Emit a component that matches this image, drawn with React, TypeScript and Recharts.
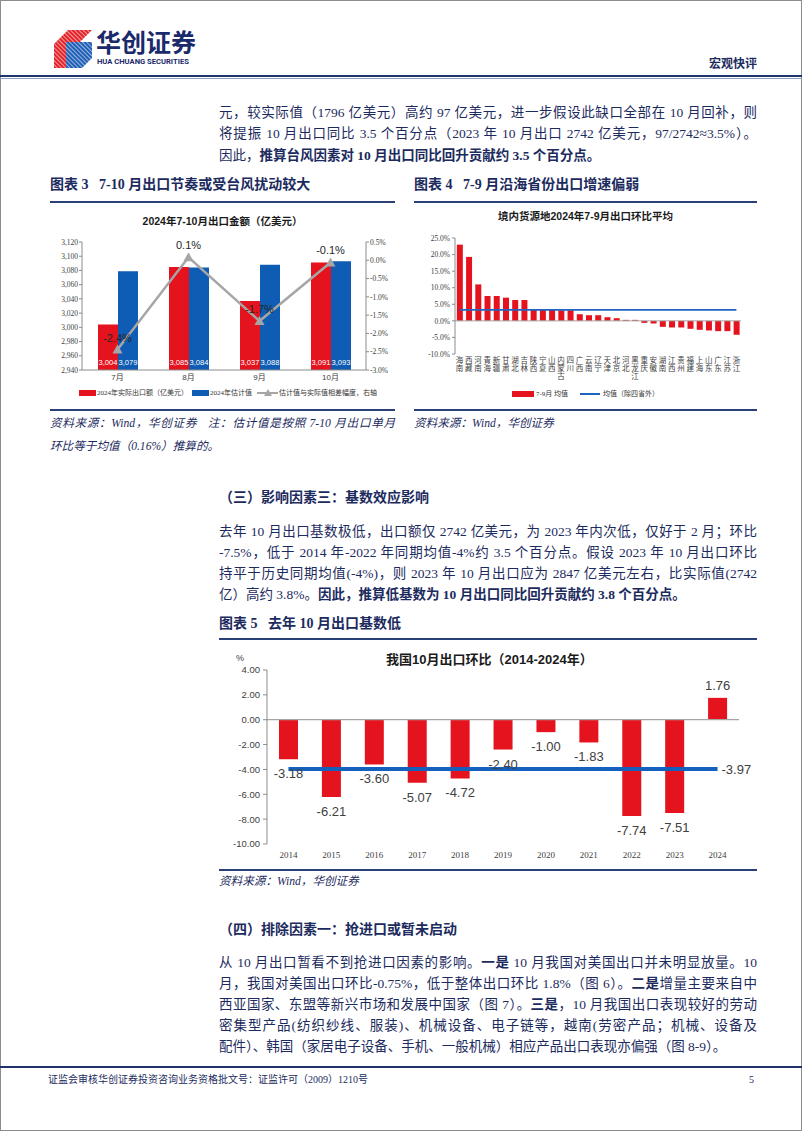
import React from 'react';
import { ComposedChart, BarChart, Bar, Line, XAxis, YAxis, ReferenceLine, LabelList } from 'recharts';

const NAVY = '#1c2b5e';
const RED = '#e5131d';
const BLUE = '#0e5cb3';
const GREY = '#a6a6a6';
const AXIS = '#8c8c8c';
const SERIF = '"Liberation Serif", "Noto Sans CJK SC", serif';
const SANS = '"Liberation Sans", "Noto Sans CJK SC", sans-serif';

// 图表3：2024年7-10月出口金额
const months = ['7月', '8月', '9月', '10月'];
const actualExport = [3004, 3085, 3037, 3091];
const estimatedExport = [3079, 3084, 3088, 3093];
const estimateGap = [-2.44, 0.08, -1.66, -0.06];
const exportTicks = [2940, 2960, 2980, 3000, 3020, 3040, 3060, 3080, 3100, 3120];
const gapTicks = [-3, -2.5, -2, -1.5, -1, -0.5, 0, 0.5];

// 图表4：境内货源地2024年7-9月出口环比平均
const provinces = [
  '海南', '西藏', '河南', '青海', '新疆', '甘肃', '湖北', '吉林', '陕西', '宁夏', '山西',
  '内蒙古', '四川', '广西', '云南', '辽宁', '天津', '北京', '河北', '黑龙江', '重庆',
  '安徽', '湖南', '江西', '贵州', '福建', '上海', '山东', '广东', '江苏', '浙江',
];
const provinceMoM = [
  23.0, 19.3, 11.0, 7.5, 7.5, 7.0, 6.3, 6.3, 3.4, 3.3, 3.3,
  3.2, 3.2, 2.0, 1.7, 1.7, 1.1, 0.8, 0.3, 0.3, -0.6,
  -0.8, -1.8, -2.0, -2.0, -2.4, -2.7, -2.9, -3.1, -3.1, -4.2,
];
const provinceAvgExFour = 3.3;
const provinceTicks = [-10, -5, 0, 5, 10, 15, 20, 25];

// 图表5：我国10月出口环比
const years = ['2014', '2015', '2016', '2017', '2018', '2019', '2020', '2021', '2022', '2023', '2024'];
const octMoM = [-3.18, -6.21, -3.6, -5.07, -4.72, -2.4, -1.0, -1.83, -7.74, -7.51, 1.76];
const octMoMAvg = -3.97;
const octTicks = [-10, -8, -6, -4, -2, 0, 2, 4];

const exportData = months.map((m, i) => ({
  month: m,
  actual: actualExport[i],
  estimate: estimatedExport[i],
  gap: estimateGap[i],
}));
const provinceData = provinces.map((p, i) => ({ name: p, value: provinceMoM[i] }));
const octData = years.map((y, i) => ({ year: y, value: octMoM[i] }));

const TriangleDot = (props: any) => {
  const { cx, cy } = props;
  if (cx == null || cy == null) return null;
  return <path d={`M${cx},${cy - 5}L${cx + 5},${cy + 4}L${cx - 5},${cy + 4}Z`} fill={GREY} />;
};

const VerticalTick = ({ x, y, payload }: any) => {
  const chars = Array.from(String(payload.value));
  return (
    <g>
      {chars.map((c, i) => (
        <text key={i} x={x} y={y + 6.5 + i * 8.3} textAnchor="middle" fontSize={7.5} fill="#404040" fontFamily={SANS}>
          {c}
        </text>
      ))}
    </g>
  );
};

const OctLabel = (props: any) => {
  const { x, y, width, height, value } = props;
  const top = Math.min(y, y + height);
  const bottom = Math.max(y, y + height);
  const ty = value < 0 ? bottom + 19 : top - 8;
  return (
    <text x={x + width / 2} y={ty} textAnchor="middle" fontSize={13} fill="#404040" fontFamily={SANS}>
      {Number(value).toFixed(2)}
    </text>
  );
};

// 绝对定位的一行文字，y 为行中心
function T({ x, y, w, size = 13.5, bold, italic, justify, color = NAVY, family = SERIF, children }: any) {
  return (
    <div
      style={{
        position: 'absolute',
        left: x,
        top: y - size,
        width: w,
        height: size * 2,
        lineHeight: `${size * 2}px`,
        fontSize: size,
        fontFamily: family,
        fontWeight: bold ? 700 : 400,
        fontStyle: italic ? 'italic' : 'normal',
        color,
        textAlign: justify ? 'justify' : 'left',
        textAlignLast: justify ? 'justify' : 'auto',
        whiteSpace: justify ? 'normal' : 'nowrap',
      }}
    >
      {children}
    </div>
  );
}

const Rule = ({ x, y, w, h = 2, color = '#2a4178' }: any) => (
  <div style={{ position: 'absolute', left: x, top: y, width: w, height: h, background: color }} />
);

const Logo = () => (
  <svg style={{ position: 'absolute', left: 54, top: 30 }} width={38} height={38}>
    <defs>
      <pattern id="stripes" width="3" height="3" patternUnits="userSpaceOnUse" patternTransform="rotate(45)">
        <rect width="3" height="1" fill="#fff" />
      </pattern>
    </defs>
    <path d="M0,14 L14,0 L38,0 L26,12 L12,12 L12,38 L0,38 Z" fill="#e2232a" />
    <path d="M12,12 L38,12 L38,28 L28,38 L12,38 Z" fill="#1f5fb5" />
    <path d="M0,14 L14,0 L38,0 L38,28 L28,38 L0,38 Z" fill="url(#stripes)" opacity={0.55} />
  </svg>
);

export default function App() {
  return (
    <div
      style={{
        position: 'absolute',
        left: 0,
        top: 0,
        width: 802,
        height: 1133,
        background: '#fff',
        overflow: 'hidden',
        fontFamily: SERIF,
        color: NAVY,
      }}
    >
      <div style={{ position: 'absolute', left: 0, top: 0, width: 800, height: 1129, border: '1px solid #8c8c8c' }} />

      {/* 页眉 */}
      <Logo />
      <T x={96} y={43} size={25} bold family={SANS} color="#1b2a6b">华创证券</T>
      <T x={97} y={62} size={7.6} bold family='Roboto, "Liberation Sans", sans-serif' color="#1b2a6b">
        HUA CHUANG SECURITIES
      </T>
      <T x={709} y={64} size={12} bold family={SANS}>宏观快评</T>
      <Rule x={0} y={75} w={802} h={2} color="#1f3469" />
      <Rule x={0} y={77.5} w={802} h={1} color="#8fa0c4" />

      {/* 正文一 */}
      <T x={219} y={112} w={538} justify>
        元，较实际值（1796 亿美元）高约 97 亿美元，进一步假设此缺口全部在 10 月回补，则
      </T>
      <T x={219} y={133} w={538} justify>
        将提振 10 月出口同比 3.5 个百分点（2023 年 10 月出口 2742 亿美元，97/2742≈3.5%）。
      </T>
      <T x={219} y={155}>
        因此，<b>推算台风因素对 10 月出口同比回升贡献约 3.5 个百分点。</b>
      </T>

      {/* 图表3、4标题 */}
      <T x={50} y={185} size={14} bold>图表 3&nbsp;&nbsp;&nbsp;7-10 月出口节奏或受台风扰动较大</T>
      <T x={414} y={185} size={14} bold>图表 4&nbsp;&nbsp;&nbsp;7-9 月沿海省份出口增速偏弱</T>
      <Rule x={50} y={201} w={345} />
      <Rule x={414} y={201} w={343} />

      {/* 图表3 */}
      <T x={50} y={221} w={345} size={10.5} bold family={SANS} color="#1a1a1a">
        <div style={{ textAlign: 'center', width: 345 }}>2024年7-10月出口金额（亿美元）</div>
      </T>
      <div style={{ position: 'absolute', left: 50, top: 230 }}>
        <ComposedChart
          width={345}
          height={160}
          data={exportData}
          margin={{ top: 12, right: 0, left: 0, bottom: 0 }}
          barGap={0}
        >
          <XAxis
            dataKey="month"
            tickLine={false}
            tickSize={4}
            tickMargin={0}
            height={20}
            stroke={AXIS}
            tick={{ fontSize: 8, fill: '#404040', fontFamily: SANS }}
          />
          <YAxis
            yAxisId="left"
            width={32}
            domain={[2940, 3120]}
            ticks={exportTicks}
            tickSize={3}
            tickMargin={1}
            stroke={AXIS}
            tickFormatter={(v: number) => v.toLocaleString('en-US')}
            tick={{ fontSize: 7.5, fill: '#404040', fontFamily: SERIF }}
          />
          <YAxis
            yAxisId="right"
            orientation="right"
            width={29}
            domain={[-3, 0.5]}
            ticks={gapTicks}
            tickSize={3}
            tickMargin={1}
            stroke={AXIS}
            tickFormatter={(v: number) => `${v.toFixed(1)}%`}
            tick={{ fontSize: 7.5, fill: '#404040', fontFamily: SERIF }}
          />
          <Bar yAxisId="left" dataKey="actual" fill={RED} barSize={20} isAnimationActive={false}>
            <LabelList
              dataKey="actual"
              position="insideBottom"
              offset={5}
              fill="#ffffff"
              fontSize={7.6}
              fontFamily={SANS}
              formatter={(v: any) => Number(v).toLocaleString('en-US')}
            />
          </Bar>
          <Bar yAxisId="left" dataKey="estimate" fill={BLUE} barSize={20} isAnimationActive={false}>
            <LabelList
              dataKey="estimate"
              position="insideBottom"
              offset={5}
              fill="#ffffff"
              fontSize={7.6}
              fontFamily={SANS}
              formatter={(v: any) => Number(v).toLocaleString('en-US')}
            />
          </Bar>
          <Line
            yAxisId="right"
            dataKey="gap"
            type="linear"
            stroke={GREY}
            strokeWidth={2.5}
            dot={<TriangleDot />}
            activeDot={false}
            isAnimationActive={false}
          >
            <LabelList
              dataKey="gap"
              position="top"
              offset={8}
              fill="#262626"
              fontSize={11}
              fontFamily={SANS}
              formatter={(v: any) => `${Number(v).toFixed(1)}%`}
            />
          </Line>
        </ComposedChart>
      </div>
      {/* 图表3图例 */}
      <div style={{ position: 'absolute', left: 79, top: 390, width: 17, height: 6, background: RED }} />
      <T x={97} y={393} size={7} color="#333">2024年实际出口额（亿美元）</T>
      <div style={{ position: 'absolute', left: 192, top: 390, width: 17, height: 6, background: BLUE }} />
      <T x={210} y={393} size={7} color="#333">2024年估计值</T>
      <div style={{ position: 'absolute', left: 257, top: 392, width: 21, height: 1.5, background: GREY }} />
      <svg style={{ position: 'absolute', left: 264, top: 389 }} width={8} height={8}>
        <path d="M4,0 L8,7 L0,7 Z" fill={GREY} />
      </svg>
      <T x={279} y={393} size={7} color="#333">估计值与实际值相差幅度，右轴</T>

      {/* 图表4 */}
      <T x={414} y={216} w={343} size={10.5} bold family={SANS} color="#1a1a1a">
        <div style={{ textAlign: 'center', width: 343 }}>境内货源地2024年7-9月出口环比平均</div>
      </T>
      <div style={{ position: 'absolute', left: 415, top: 228 }}>
        <BarChart
          width={342}
          height={166}
          data={provinceData}
          margin={{ top: 10, right: 16, left: 0, bottom: 0 }}
          barCategoryGap="20%"
        >
          <XAxis
            dataKey="name"
            interval={0}
            axisLine={false}
            tickLine={false}
            tickSize={2}
            tickMargin={0}
            height={40}
            tick={<VerticalTick />}
          />
          <YAxis
            width={40}
            domain={[-10, 25]}
            ticks={provinceTicks}
            tickSize={3}
            tickMargin={2}
            stroke={AXIS}
            tickFormatter={(v: number) => `${v.toFixed(1)}%`}
            tick={{ fontSize: 7.5, fill: '#404040', fontFamily: SERIF }}
          />
          <ReferenceLine y={0} stroke={GREY} strokeWidth={1} />
          <Bar dataKey="value" fill={RED} isAnimationActive={false} />
          <ReferenceLine
            segment={[
              { x: provinces[0], y: provinceAvgExFour },
              { x: provinces[provinces.length - 1], y: provinceAvgExFour },
            ]}
            stroke="#1f64c0"
            strokeWidth={1.6}
          />
        </BarChart>
      </div>
      {/* 图表4图例 */}
      <div style={{ position: 'absolute', left: 512, top: 391, width: 22, height: 6, background: RED }} />
      <T x={536} y={394} size={7} color="#333">7-9月 均值</T>
      <div style={{ position: 'absolute', left: 580, top: 393, width: 20, height: 1.6, background: '#1f64c0' }} />
      <T x={603} y={394} size={7} color="#333">均值（除四省外）</T>

      {/* 资料来源 */}
      <Rule x={50} y={409} w={345} />
      <Rule x={414} y={409} w={343} />
      <T x={50} y={424} w={345} size={11.6} italic justify>
        资料来源：Wind，华创证券&nbsp;&nbsp;&nbsp;注：估计值是按照 7-10 月出口单月
      </T>
      <T x={50} y={447} size={11.6} italic>环比等于均值（0.16%）推算的。</T>
      <T x={414} y={424} size={11.6} italic>资料来源：Wind，华创证券</T>

      {/* （三） */}
      <T x={219} y={498} size={14} bold>（三）影响因素三：基数效应影响</T>
      <T x={219} y={531} w={538} justify>
        去年 10 月出口基数极低，出口额仅 2742 亿美元，为 2023 年内次低，仅好于 2 月；环比
      </T>
      <T x={219} y={552} w={538} justify>
        -7.5%，低于 2014 年-2022 年同期均值-4%约 3.5 个百分点。假设 2023 年 10 月出口环比
      </T>
      <T x={219} y={573} w={538} justify>
        持平于历史同期均值(-4%)，则 2023 年 10 月出口应为 2847 亿美元左右，比实际值(2742
      </T>
      <T x={219} y={594}>
        亿）高约 3.8%。<b>因此，推算低基数为 10 月出口同比回升贡献约 3.8 个百分点。</b>
      </T>

      <T x={219} y={624} size={14} bold>图表 5&nbsp;&nbsp;&nbsp;去年 10 月出口基数低</T>
      <Rule x={219} y={638} w={538} />

      {/* 图表5 */}
      <T x={236} y={658} size={9} family={SANS} color="#404040">%</T>
      <T x={386} y={660} size={13} bold family={SANS} color="#1a1a1a">我国10月出口环比（2014-2024年）</T>
      <div style={{ position: 'absolute', left: 219, top: 660 }}>
        <BarChart
          width={538}
          height={204}
          data={octData}
          margin={{ top: 10, right: 18, left: 0, bottom: 0 }}
        >
          <XAxis
            dataKey="year"
            axisLine={false}
            tickLine={false}
            height={20}
            tick={{ fontSize: 9, fill: '#404040', fontFamily: SERIF }}
          />
          <YAxis
            width={48}
            domain={[-10, 4]}
            ticks={octTicks}
            tickSize={4}
            tickMargin={3}
            stroke={AXIS}
            tickFormatter={(v: number) => v.toFixed(2)}
            tick={{ fontSize: 9.5, fill: '#404040', fontFamily: SANS }}
          />
          <ReferenceLine y={0} stroke={GREY} strokeWidth={1.2} />
          <Bar dataKey="value" fill={RED} barSize={19} isAnimationActive={false}>
            <LabelList dataKey="value" content={<OctLabel />} />
          </Bar>
          <ReferenceLine
            segment={[
              { x: years[0], y: octMoMAvg },
              { x: years[years.length - 1], y: octMoMAvg },
            ]}
            stroke="#1560bd"
            strokeWidth={4}
            label={{ value: octMoMAvg.toFixed(2), position: 'right', offset: 4, fill: '#404040', fontSize: 13, fontFamily: SANS }}
          />
        </BarChart>
      </div>
      <Rule x={219} y={869} w={538} />
      <T x={219} y={882} size={11.6} italic>资料来源：Wind，华创证券</T>

      {/* （四） */}
      <T x={219} y={930} size={14} bold>（四）排除因素一：抢进口或暂未启动</T>
      <T x={219} y={962} w={538} justify>
        从 10 月出口暂看不到抢进口因素的影响。<b>一是</b> 10 月我国对美国出口并未明显放量。10
      </T>
      <T x={219} y={983} w={538} justify>
        月，我国对美国出口环比-0.75%，低于整体出口环比 1.8%（图 6）。<b>二是</b>增量主要来自中
      </T>
      <T x={219} y={1004} w={538} justify>
        西亚国家、东盟等新兴市场和发展中国家（图 7）。<b>三是</b>，10 月我国出口表现较好的劳动
      </T>
      <T x={219} y={1025} w={538} justify>
        密集型产品(纺织纱线、服装)、机械设备、电子链等，越南(劳密产品；机械、设备及
      </T>
      <T x={219} y={1046}>
        配件）、韩国（家居电子设备、手机、一般机械）相应产品出口表现亦偏强（图 8-9）。
      </T>

      {/* 页脚 */}
      <Rule x={0} y={1066} w={802} h={2} color="#1f3469" />
      <T x={48} y={1080} size={10}>证监会审核华创证券投资咨询业务资格批文号：证监许可（2009）1210号</T>
      <T x={749} y={1080} size={10}>5</T>
    </div>
  );
}
